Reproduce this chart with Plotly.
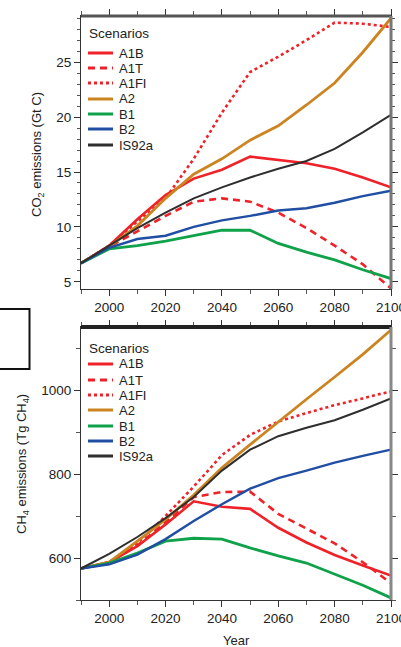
import plotly.graph_objects as go

years = [1990, 2000, 2010, 2020, 2030, 2040, 2050, 2060, 2070, 2080, 2090, 2100]
scenarios = ["A1B", "A1T", "A1FI", "A2", "B1", "B2", "IS92a"]

co2_A1B = [6.7, 8.3, 10.7, 12.9, 14.4, 15.2, 16.4, 16.1, 15.8, 15.3, 14.5, 13.6]
co2_A1T = [6.7, 8.2, 9.6, 11.0, 12.3, 12.6, 12.3, 11.3, 9.9, 8.3, 6.6, 4.4]
co2_A1FI = [6.7, 8.3, 10.5, 12.6, 16.2, 20.4, 24.1, 25.5, 27.0, 28.6, 28.5, 28.2]
co2_A2 = [6.7, 8.2, 10.1, 12.6, 14.8, 16.2, 17.9, 19.2, 21.1, 23.1, 25.9, 29.0]
co2_B1 = [6.7, 8.0, 8.3, 8.7, 9.2, 9.7, 9.7, 8.5, 7.7, 7.0, 6.1, 5.3]
co2_B2 = [6.7, 8.1, 8.9, 9.2, 10.0, 10.6, 11.0, 11.5, 11.7, 12.2, 12.8, 13.3]
co2_IS92a = [6.7, 8.3, 9.9, 11.3, 12.6, 13.6, 14.5, 15.3, 16.0, 17.1, 18.6, 20.2]

ch4_A1B = [575, 590, 628, 680, 735, 722, 717, 672, 637, 607, 582, 558]
ch4_A1T = [575, 590, 630, 685, 745, 757, 758, 705, 670, 635, 590, 540]
ch4_A1FI = [575, 590, 635, 700, 770, 845, 893, 925, 945, 964, 980, 997]
ch4_A2 = [575, 590, 640, 692, 750, 815, 870, 925, 978, 1031, 1085, 1143]
ch4_B1 = [575, 588, 612, 640, 647, 645, 624, 605, 588, 562, 535, 505]
ch4_B2 = [575, 585, 608, 645, 688, 728, 765, 790, 808, 827, 843, 858]
ch4_IS92a = [575, 610, 650, 695, 745, 808, 858, 890, 910, 928, 953, 980]

x_ticks = [2000, 2020, 2040, 2060, 2080, 2100]
co2_ticks = [5, 10, 15, 20, 25]
ch4_ticks = [600, 800, 1000]

co2_series = [co2_A1B, co2_A1T, co2_A1FI, co2_A2, co2_B1, co2_B2, co2_IS92a]
ch4_series = [ch4_A1B, ch4_A1T, ch4_A1FI, ch4_A2, ch4_B1, ch4_B2, ch4_IS92a]

RED = "#ee2228"
styles = {
    "A1B": dict(color=RED, width=2.6, dash="solid"),
    "A1T": dict(color=RED, width=2.6, dash="7px,5px"),
    "A1FI": dict(color=RED, width=2.6, dash="3px,3px"),
    "A2": dict(color="#cc8420", width=2.8, dash="solid"),
    "B1": dict(color="#10a24a", width=2.8, dash="solid"),
    "B2": dict(color="#1f4ea3", width=2.4, dash="solid"),
    "IS92a": dict(color="#2e2e2e", width=2.0, dash="solid"),
}

W, H = 401, 647
FONT = "Liberation Sans, Arial, sans-serif"

fig = go.Figure()
for name, vals in zip(scenarios, co2_series):
    fig.add_trace(go.Scatter(x=years, y=vals, mode="lines", name=name,
                             line=styles[name], xaxis="x", yaxis="y", showlegend=False))
for name, vals in zip(scenarios, ch4_series):
    fig.add_trace(go.Scatter(x=years, y=vals, mode="lines", name=name,
                             line=styles[name], xaxis="x2", yaxis="y2", showlegend=False))

def px_x(p):
    return p / W

def px_y(p):
    return 1 - p / H

top_dom = [px_y(289), px_y(16)]
bot_dom = [px_y(600), px_y(327)]
x_dom = [px_x(81), px_x(391)]

tickfont = dict(family=FONT, size=13.5, color="#222")

xcommon = dict(range=[1990, 2100], tickvals=x_ticks, ticks="outside", ticklen=6,
               tickcolor="#333", showline=True, linecolor="#333", linewidth=1,
               mirror="ticks", showgrid=False, zeroline=False, tickfont=tickfont,
               ticklabeloverflow="allow",
               minor=dict(dtick=10, tick0=1990, ticks="outside", ticklen=4, tickcolor="#555"),
               automargin=False, domain=x_dom)

fig.update_layout(
    width=W, height=H, margin=dict(l=0, r=0, t=0, b=0),
    paper_bgcolor="white", plot_bgcolor="white",
    font=dict(family=FONT, color="#222"),
    xaxis=dict(anchor="y", **xcommon),
    xaxis2=dict(anchor="y2", **xcommon),
    yaxis=dict(domain=top_dom, anchor="x", range=[4.35, 29.2], tickvals=co2_ticks,
               ticks="outside", ticklen=6, tickcolor="#333", showline=True,
               linecolor="#333", linewidth=1, mirror="ticks", showgrid=False,
               zeroline=False, tickfont=tickfont, automargin=False,
               minor=dict(dtick=1, tick0=0, ticks="outside", ticklen=3, tickcolor="#555")),
    yaxis2=dict(domain=bot_dom, anchor="x2", range=[500, 1150], tickvals=ch4_ticks,
                ticks="outside", ticklen=6, tickcolor="#333", showline=True,
                linecolor="#333", linewidth=1, mirror="ticks", showgrid=False,
                zeroline=False, tickfont=tickfont, automargin=False,
                minor=dict(dtick=100, tick0=0, ticks="outside", ticklen=4, tickcolor="#555")),
)

shapes = []
# heavy frame edges
shapes.append(dict(type="line", xref="x domain", yref="y domain", x0=0, x1=1, y0=1, y1=1,
                   line=dict(color="#555", width=3)))
shapes.append(dict(type="line", xref="x domain", yref="y domain", x0=1, x1=1, y0=0, y1=1,
                   line=dict(color="#777", width=3)))
shapes.append(dict(type="line", xref="x2 domain", yref="y2 domain", x0=0, x1=1, y0=1, y1=1,
                   line=dict(color="#222", width=4)))
shapes.append(dict(type="line", xref="x2 domain", yref="y2 domain", x0=1, x1=1, y0=0, y1=1,
                   line=dict(color="#888", width=3)))
# stray box at left
shapes.append(dict(type="rect", xref="paper", yref="paper", x0=px_x(-1), x1=px_x(29.5),
                   y0=px_y(369), y1=px_y(309), line=dict(color="#111", width=2)))

annotations = []
legend_sets = [
    (33, [53, 68, 83, 99, 114, 129, 145]),
    (348, [364, 380, 395, 410, 426, 441, 456]),
]
for title_y, item_ys in legend_sets:
    annotations.append(dict(text="Scenarios", xref="paper", yref="paper",
                            x=px_x(87), y=px_y(title_y), xanchor="left", yanchor="middle",
                            showarrow=False, font=dict(family=FONT, size=13.5, color="#222")))
    for name, yy in zip(scenarios, item_ys):
        st = styles[name]
        shapes.append(dict(type="line", xref="paper", yref="paper",
                           x0=px_x(88), x1=px_x(113), y0=px_y(yy), y1=px_y(yy),
                           line=dict(color=st["color"], width=3, dash=st["dash"])))
        annotations.append(dict(text=name, xref="paper", yref="paper",
                                x=px_x(117), y=px_y(yy), xanchor="left", yanchor="middle",
                                showarrow=False, font=dict(family=FONT, size=13, color="#222")))

annotations.append(dict(text="CO<sub>2</sub> emissions (Gt C)", xref="paper", yref="paper",
                        x=px_x(37), y=px_y(155), textangle=-90, showarrow=False,
                        xanchor="center", yanchor="middle",
                        font=dict(family=FONT, size=13, color="#222")))
annotations.append(dict(text="CH<sub>4</sub> emissions (Tg CH<sub>4</sub>)", xref="paper", yref="paper",
                        x=px_x(22), y=px_y(464), textangle=-90, showarrow=False,
                        xanchor="center", yanchor="middle",
                        font=dict(family=FONT, size=13, color="#222")))
annotations.append(dict(text="Year", xref="paper", yref="paper",
                        x=px_x(236), y=px_y(640), showarrow=False,
                        xanchor="center", yanchor="middle",
                        font=dict(family=FONT, size=13, color="#222")))

fig.update_layout(shapes=shapes, annotations=annotations)
fig.write_html("out.html", config={"displayModeBar": False},
               post_script="document.body.style.margin='0px';document.body.style.overflow='hidden';")
